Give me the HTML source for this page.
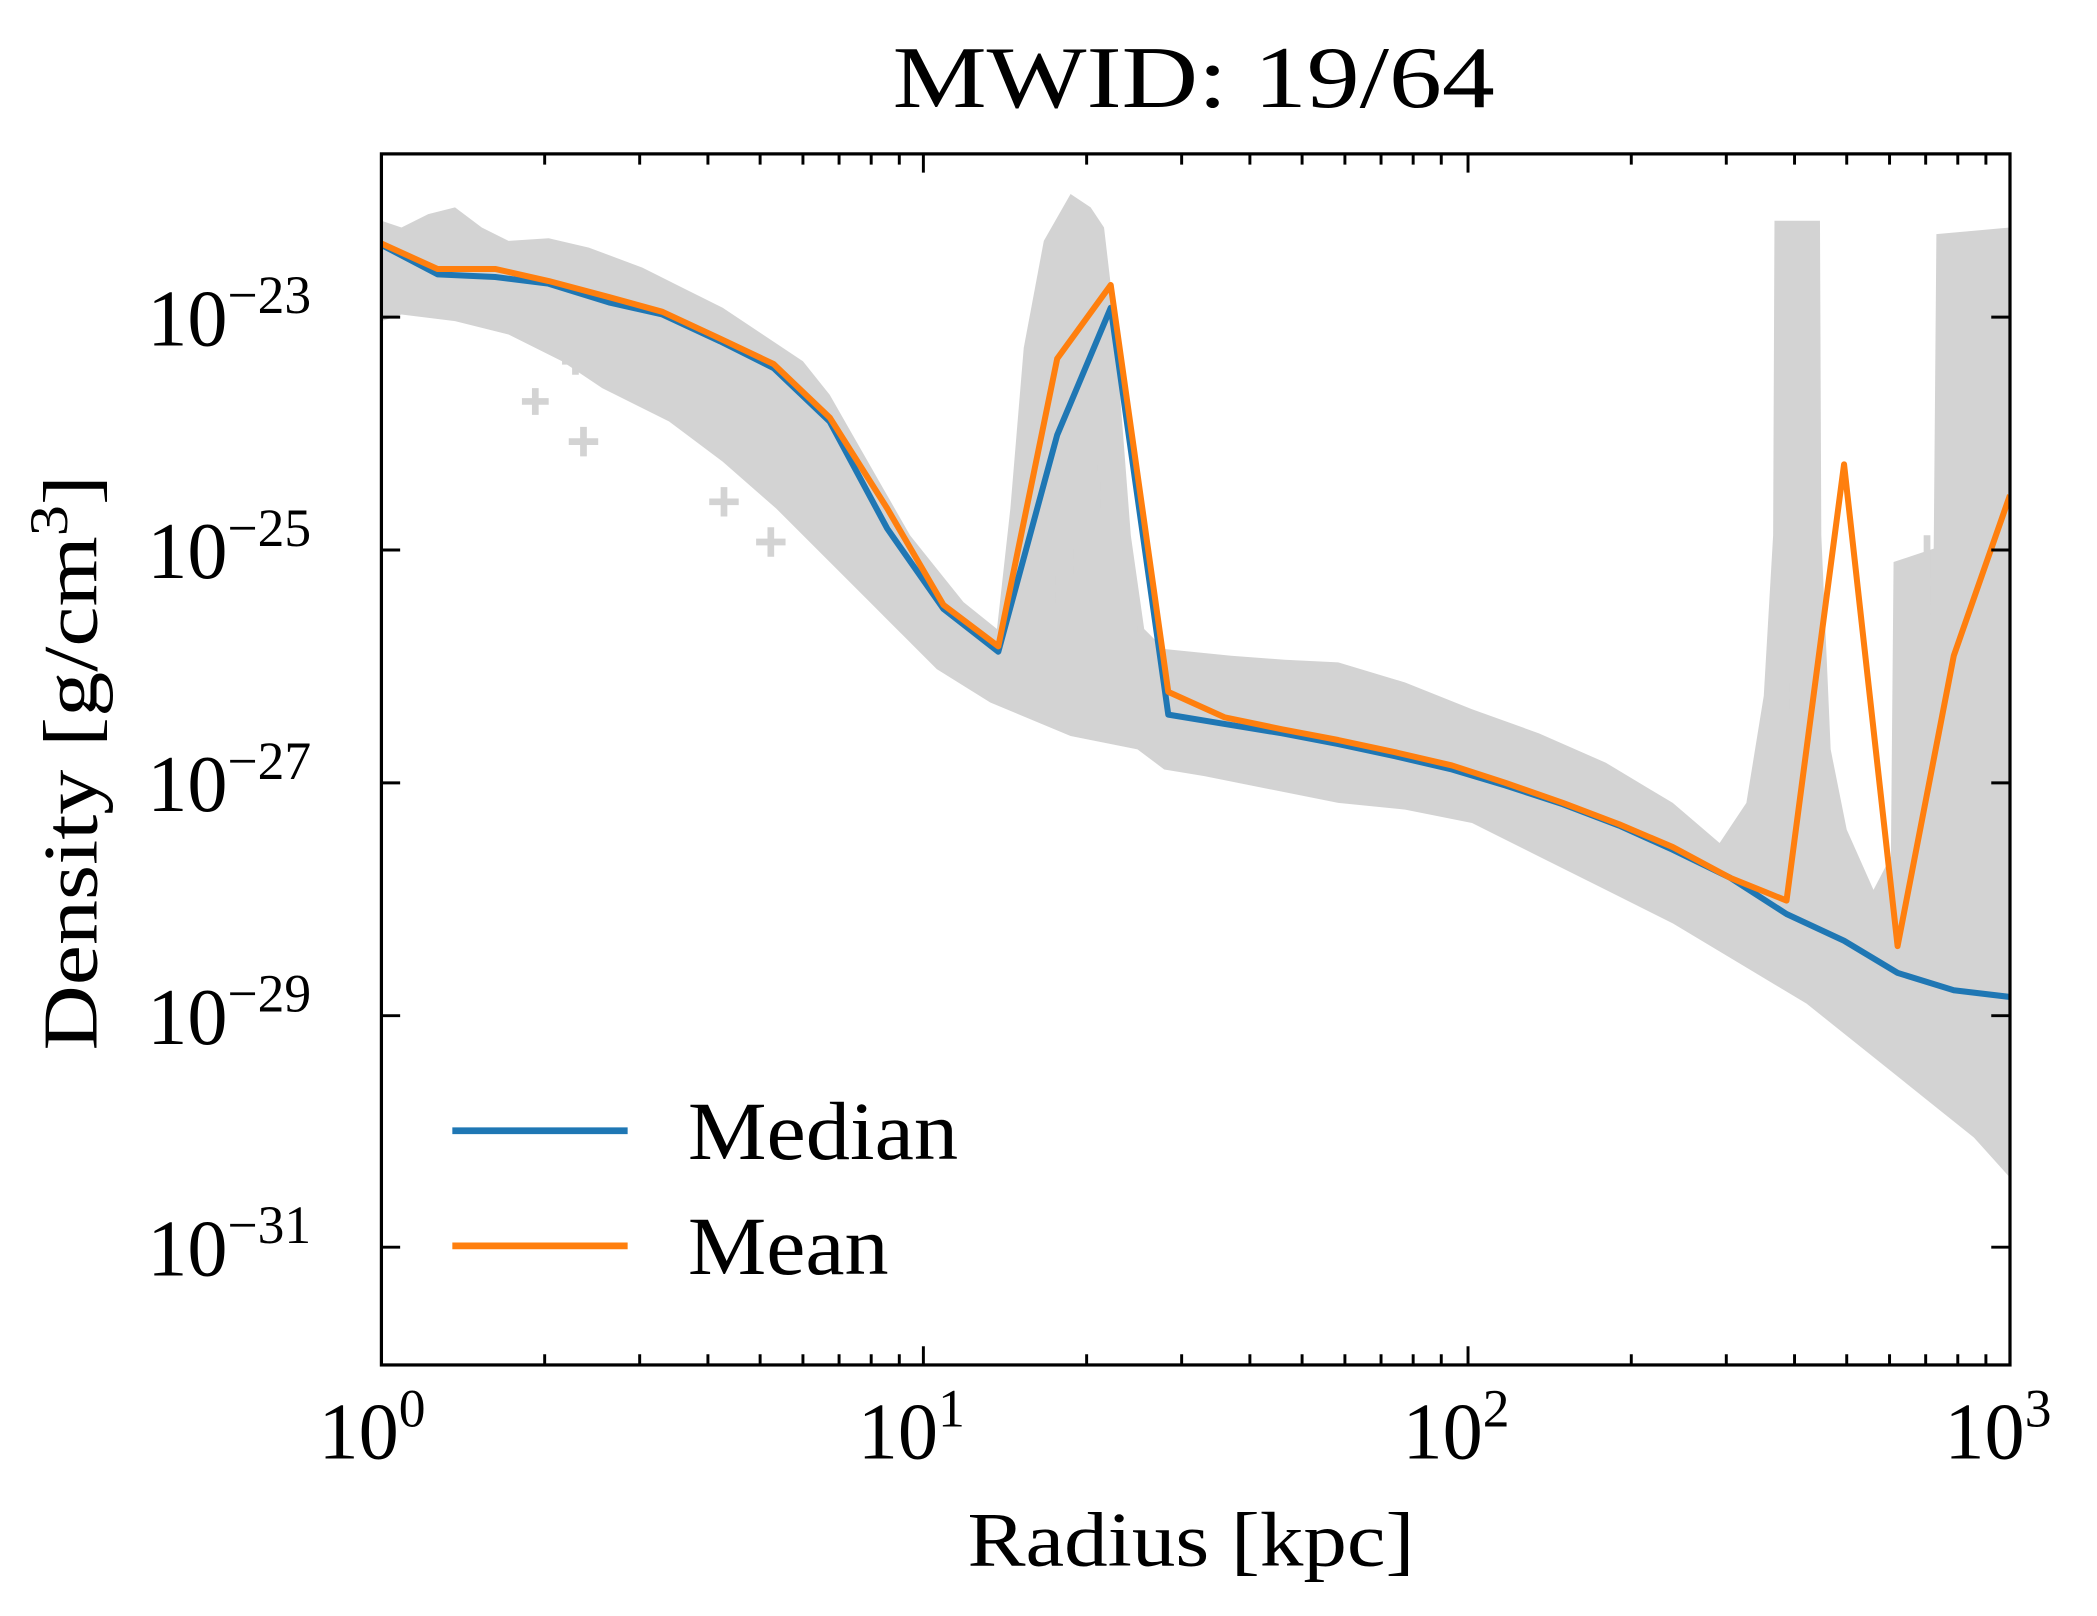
<!DOCTYPE html>
<html><head><meta charset="utf-8"><style>html,body{margin:0;padding:0;background:#fff}svg{display:block}</style></head>
<body>
<svg width="2097" height="1616" viewBox="0 0 1567 1207.6" xmlns="http://www.w3.org/2000/svg" font-family="'Liberation Serif', serif">
<rect width="1567" height="1208" fill="#fff"/>
<defs><clipPath id="c"><rect x="285" y="115" width="1217" height="905"/></clipPath></defs>
<g clip-path="url(#c)">
<polygon fill="#d3d3d3" points="285,165 300,170 320,160 340,155 360,170 380,180 410,178 440,185 480,200 510,215 540,230 570,250 600,270 620,295 640,330 660,365 680,400 700,425 720,450 745,470 755,380 765,260 780,180 800,145 815,155 825,170 832,230 845,400 855,470 870,485 920,490 960,493 1000,495 1050,510 1100,530 1150,548 1200,570 1250,600 1285,630 1305,600 1318,520 1325,400 1326,165 1360,165 1361,400 1368,560 1380,620 1400,665 1413,640 1415,420 1445,410 1447,175 1502,170 1502,880 1475,850 1450,830 1400,790 1350,750 1300,720 1250,690 1200,665 1150,640 1100,615 1050,605 1000,600 950,590 900,580 870,575 850,560 800,550 740,525 700,500 650,450 620,420 580,380 540,345 500,315 450,290 420,270 380,250 340,240 300,235 285,240"/>
<g stroke="#d3d3d3" stroke-width="5">
<path d="M390,300h20M400,290v20 M420,270h20M430,260v20 M425,330h22M436,319v22 M490,300h20M500,290v20 M530,375h22M541,364v22 M565,405h22M576,394v22 M600,385h20M610,375v20 M760,450h20M770,440v20 M780,440h22M791,429v22 M800,350h20M810,340v20 M815,370h20M825,360v20 M795,420h20M805,410v20 M745,490h15M830,470h20M840,460v20 M1420,435h30M1435,420v30 M1420,455h30 M1440,400v60 M1455,380h40M1470,280h30 M1460,320h35 M1450,240h30 M1330,520h20M1340,510v20"/>
</g>
<polyline fill="none" stroke="#1f77b4" stroke-width="4.5" stroke-linejoin="round" points="285,183 327,205 370,207 410,212 455,226 495,235 538,255 578,275 620,315 663,395 705,455 746,487 790,325 830,230 873,534 915,541 958,548 1000,556 1042,565 1085,575 1125,587 1168,601 1210,617 1250,635 1293,656 1335,683 1378,703 1418,727 1460,740 1502,745"/>
<polyline fill="none" stroke="#ff7f0e" stroke-width="4.5" stroke-linejoin="round" points="285,182 327,201 370,201 410,210 455,222 495,233 538,253 578,272 620,312 663,380 705,452 746,483 790,268 830,213 873,517 915,536 958,545 1000,553 1042,562 1085,572 1125,585 1168,600 1210,616 1250,633 1293,656 1335,673 1378,347 1418,707 1460,490 1502,370"/>
</g>
<rect x="285" y="115" width="1217" height="905" fill="none" stroke="#000" stroke-width="2.4"/>
<g stroke="#000" stroke-width="2.2">
<path d="M690,1020v-14M1097,1020v-14M690,115v14M1097,115v14 M285,237h14M285,411h14M285,585h14M285,759h14M285,932h14 M1502,237h-14M1502,411h-14M1502,585h-14M1502,759h-14M1502,932h-14"/>
<path d="M407,1020v-8M478,1020v-8M529,1020v-8M568,1020v-8M600,1020v-8M627,1020v-8M651,1020v-8M672,1020v-8 M407,115v8M478,115v8M529,115v8M568,115v8M600,115v8M627,115v8M651,115v8M672,115v8"/>
<path d="M812,1020v-8M883,1020v-8M934,1020v-8M973,1020v-8M1005,1020v-8M1032,1020v-8M1056,1020v-8M1077,1020v-8 M812,115v8M883,115v8M934,115v8M973,115v8M1005,115v8M1032,115v8M1056,115v8M1077,115v8 M1219,1020v-8M1290,1020v-8M1341,1020v-8M1380,1020v-8M1412,1020v-8M1439,1020v-8M1463,1020v-8M1484,1020v-8 M1219,115v8M1290,115v8M1341,115v8M1380,115v8M1412,115v8M1439,115v8M1463,115v8M1484,115v8"/>
</g>
<g font-size="60" fill="#000">
<text x="238" y="1090">10<tspan font-size="40" dy="-24">0</tspan></text>
<text x="641" y="1090">10<tspan font-size="40" dy="-24">1</tspan></text>
<text x="1048" y="1090">10<tspan font-size="40" dy="-24">2</tspan></text>
<text x="1453" y="1090">10<tspan font-size="40" dy="-24">3</tspan></text>
<text x="110" y="258">10<tspan font-size="40" dy="-24">−23</tspan></text>
<text x="110" y="432">10<tspan font-size="40" dy="-24">−25</tspan></text>
<text x="110" y="606">10<tspan font-size="40" dy="-24">−27</tspan></text>
<text x="110" y="780">10<tspan font-size="40" dy="-24">−29</tspan></text>
<text x="110" y="953">10<tspan font-size="40" dy="-24">−31</tspan></text>
</g>
<text x="667" y="80" font-size="66" textLength="450" lengthAdjust="spacingAndGlyphs">MWID: 19/64</text>
<text x="723" y="1170" font-size="58" textLength="334" lengthAdjust="spacingAndGlyphs">Radius [kpc]</text>
<text transform="translate(72,785) rotate(-90)" font-size="58" textLength="430" lengthAdjust="spacingAndGlyphs">Density [g/cm<tspan font-size="40" dy="-22">3</tspan><tspan dy="22">]</tspan></text>
<line x1="338" y1="845" x2="469" y2="845" stroke="#1f77b4" stroke-width="5"/>
<line x1="338" y1="931" x2="469" y2="931" stroke="#ff7f0e" stroke-width="5"/>
<text x="514" y="866" font-size="62" textLength="202" lengthAdjust="spacingAndGlyphs">Median</text>
<text x="514" y="952" font-size="62" textLength="150" lengthAdjust="spacingAndGlyphs">Mean</text>
</svg>
</body></html>
